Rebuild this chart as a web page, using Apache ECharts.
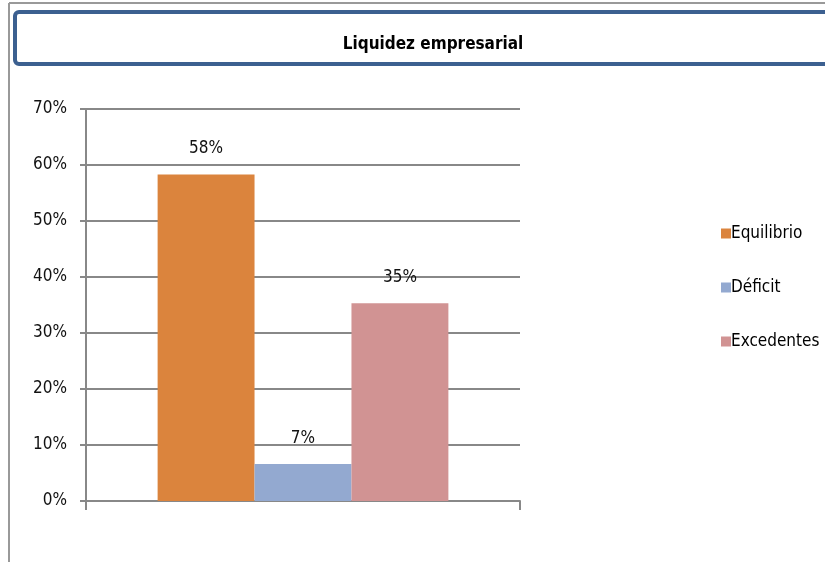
<!DOCTYPE html>
<html>
<head>
<meta charset="utf-8">
<script src="https://cdn.jsdelivr.net/npm/echarts@6/dist/echarts.min.js"></script>
<style>
  html, body { margin: 0; padding: 0; background: #fff; }
  #chart { width: 825px; height: 562px; }
</style>
</head>
<body>
<div id="chart"></div>
<script>
// categorias (una sola) y series
var categories = ['Liquidez'];
var seriesNames = ['Equilibrio', 'Déficit', 'Excedentes'];
var seriesValues = [0.583, 0.066, 0.353];
var seriesColors = ['#DB843D', '#93A9D0', '#D19393'];

var FONT = '"Liberation Sans Narrow", "DejaVu Sans Condensed", sans-serif';

var series = seriesNames.map(function (name, i) {
  return {
    name: name,
    type: 'bar',
    barGap: 0,
    barCategoryGap: '33%',
    itemStyle: { color: seriesColors[i] },
    label: {
      show: true,
      position: 'top',
      distance: 17,
      color: '#111',
      fontFamily: FONT,
      fontSize: 17,
      formatter: function (p) { return Math.round(p.value * 100) + '%'; }
    },
    data: [seriesValues[i]]
  };
});

var chart = echarts.init(document.getElementById('chart'));
chart.setOption({
  backgroundColor: '#fff',
  animation: false,
  title: {
    text: 'Liquidez empresarial',
    left: 428,
    textAlign: 'center',
    top: 31,
    textStyle: { fontFamily: FONT, fontSize: 17, fontWeight: 'bold', color: '#000' }
  },
  graphic: [
    // marco exterior
    { type: 'line', z: -10, shape: { x1: 9, y1: 3, x2: 825, y2: 3 }, style: { stroke: '#999', lineWidth: 2 } },
    { type: 'line', z: -10, shape: { x1: 9, y1: 3, x2: 9, y2: 562 }, style: { stroke: '#999', lineWidth: 2 } },
    // caja del titulo
    { type: 'rect', z: -5, shape: { x: 15, y: 12, width: 840, height: 52, r: 4 },
      style: { fill: '#fff', stroke: '#3C6090', lineWidth: 4 } }
  ],
  legend: {
    orient: 'vertical',
    left: 716,
    top: 220,
    itemWidth: 10,
    itemHeight: 10,
    itemGap: 37,
    icon: 'rect',
    textStyle: { fontFamily: FONT, fontSize: 17, color: '#000', padding: [0, 0, 0, -5] },
    data: seriesNames
  },
  grid: { left: 86, right: 305, top: 109, bottom: 61 },
  xAxis: {
    type: 'category',
    data: categories,
    axisLine: { lineStyle: { color: '#888', width: 2 } },
    axisTick: { show: true, length: 9, lineStyle: { color: '#888', width: 2 } },
    axisLabel: { show: false }
  },
  yAxis: {
    type: 'value',
    min: 0,
    max: 0.7,
    interval: 0.1,
    axisLine: { show: true, lineStyle: { color: '#888', width: 2 } },
    axisTick: { show: true, length: 6, lineStyle: { color: '#888', width: 2 } },
    splitLine: { lineStyle: { color: '#888', width: 2 } },
    axisLabel: {
      margin: 19,
      color: '#111',
      fontFamily: FONT,
      fontSize: 17,
      formatter: function (v) { return Math.round(v * 100) + '%'; }
    }
  },
  series: series
});
</script>
</body>
</html>
